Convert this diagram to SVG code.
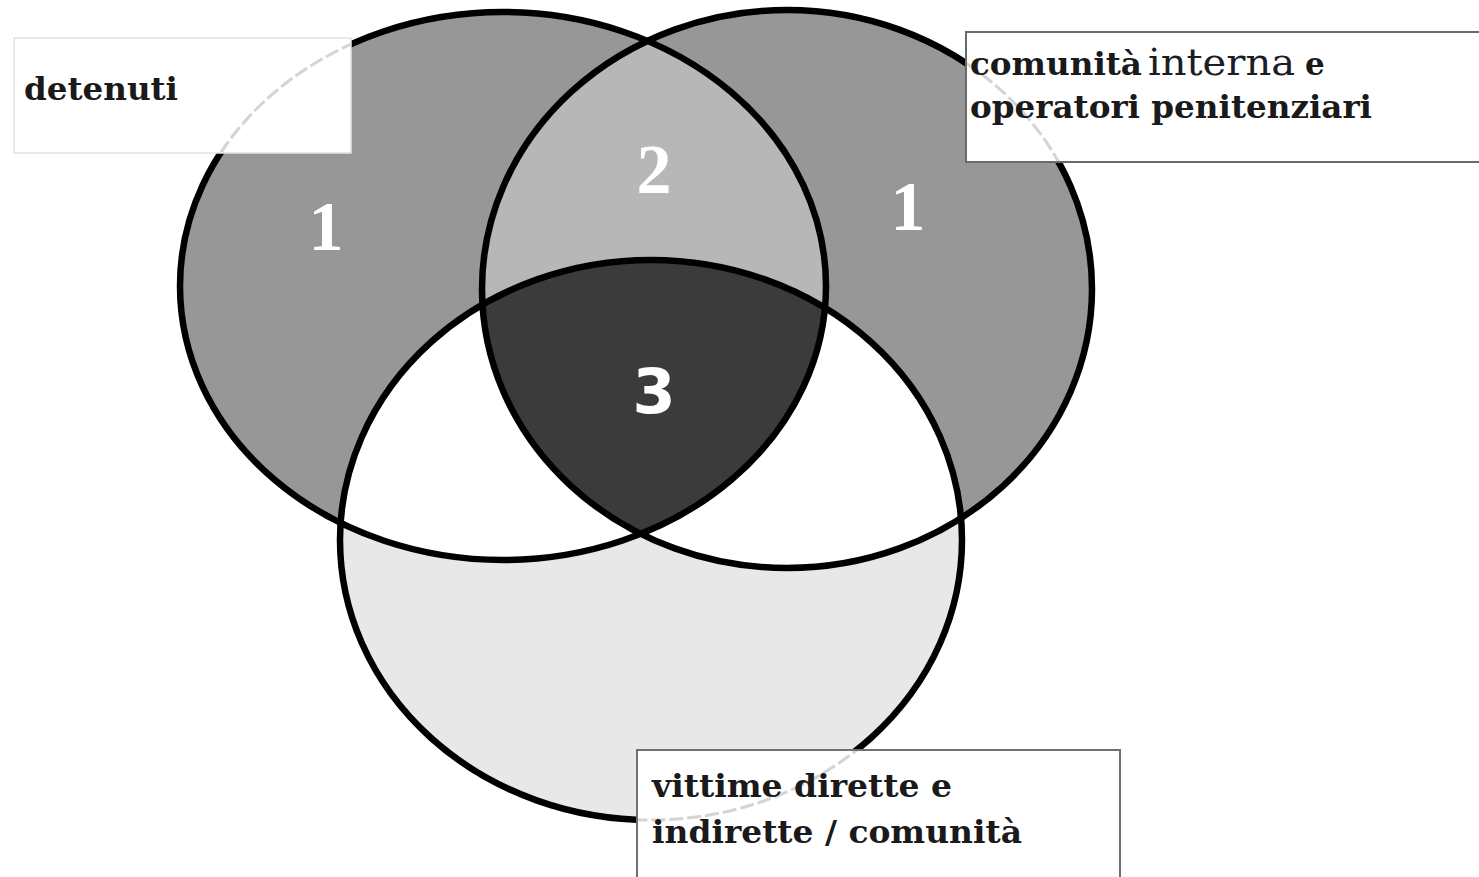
<svg xmlns="http://www.w3.org/2000/svg" width="1479" height="877" viewBox="0 0 1479 877">
<style>
.lbl{font-family:"DejaVu Serif","Liberation Serif",serif;font-weight:bold;font-size:31px;fill:#1a1a1a}
.num{font-family:"Liberation Serif","DejaVu Serif",serif;font-weight:bold;font-size:70px;fill:#ffffff;text-anchor:middle}
.ring{fill:none;stroke:#000;stroke-width:6.5}
.ghost{fill:none;stroke:#d4d4d4;stroke-width:3;stroke-dasharray:14 4}
.box{fill:#fff}
</style>
<defs>
<ellipse id="eL" cx="503" cy="286" rx="323" ry="274"/>
<ellipse id="eR" cx="787" cy="289" rx="305" ry="279"/>
<ellipse id="eB" cx="651" cy="540" rx="311" ry="280"/>
<clipPath id="cL"><use href="#eL"/></clipPath>
<clipPath id="cR"><use href="#eR"/></clipPath>
<clipPath id="cB"><use href="#eB"/></clipPath>
<clipPath id="cBox1"><rect x="15" y="39" width="335" height="113"/></clipPath>
<clipPath id="cBox2"><rect x="967" y="33" width="520" height="128"/></clipPath>
<clipPath id="cBox3"><rect x="638" y="751" width="481" height="130"/></clipPath>
</defs>
<rect width="1479" height="877" fill="#fff"/>
<g id="fills">
<use href="#eB" fill="#e8e8e8"/>
<use href="#eL" fill="#979797"/>
<use href="#eR" fill="#979797"/>
<use href="#eR" fill="#b7b7b7" clip-path="url(#cL)"/>
<use href="#eB" fill="#ffffff" clip-path="url(#cL)"/>
<use href="#eB" fill="#ffffff" clip-path="url(#cR)"/>
<g clip-path="url(#cL)"><use href="#eB" fill="#3b3b3b" clip-path="url(#cR)"/></g>
</g>
<g id="set-detenuti-ring"><use href="#eL" class="ring"/></g>
<g id="set-comunita-ring"><use href="#eR" class="ring"/></g>
<g id="set-vittime-ring"><use href="#eB" class="ring"/></g>
<g id="numbers">
<text class="num" x="326" y="250">1</text>
<text class="num" x="654" y="193">2</text>
<text class="num" x="908" y="230">1</text>
<text class="num" x="654" y="413" style="font-family:'DejaVu Sans','Liberation Sans',sans-serif;font-size:62px">3</text>
</g>
<g id="label-detenuti">
<rect class="box" x="14" y="38" width="337" height="115" stroke="#e2e2e2" stroke-width="1.5"/>
<use href="#eL" class="ghost" clip-path="url(#cBox1)"/>
<text class="lbl" x="24" y="100" textLength="154" lengthAdjust="spacingAndGlyphs">detenuti</text>
</g>
<g id="label-comunita">
<rect class="box" x="966" y="32" width="530" height="130" stroke="#6a6a6a" stroke-width="2"/>
<use href="#eR" class="ghost" clip-path="url(#cBox2)"/>
<text class="lbl" x="970" y="75" textLength="172" lengthAdjust="spacingAndGlyphs">comunità</text>
<text x="1148" y="75" textLength="147" lengthAdjust="spacingAndGlyphs" style="font-family:'DejaVu Serif','Liberation Serif',serif;font-size:38px;fill:#1c1c24">interna</text>
<text class="lbl" x="1305" y="75">e</text>
<text class="lbl" x="970" y="118" textLength="402" lengthAdjust="spacingAndGlyphs">operatori penitenziari</text>
</g>
<g id="label-vittime">
<rect class="box" x="637" y="750" width="483" height="140" stroke="#707070" stroke-width="2"/>
<use href="#eB" class="ghost" clip-path="url(#cBox3)"/>
<text class="lbl" x="652" y="797" textLength="300" lengthAdjust="spacingAndGlyphs">vittime dirette e</text>
<text class="lbl" x="652" y="843" textLength="370" lengthAdjust="spacingAndGlyphs">indirette / comunità</text>
</g>
</svg>
